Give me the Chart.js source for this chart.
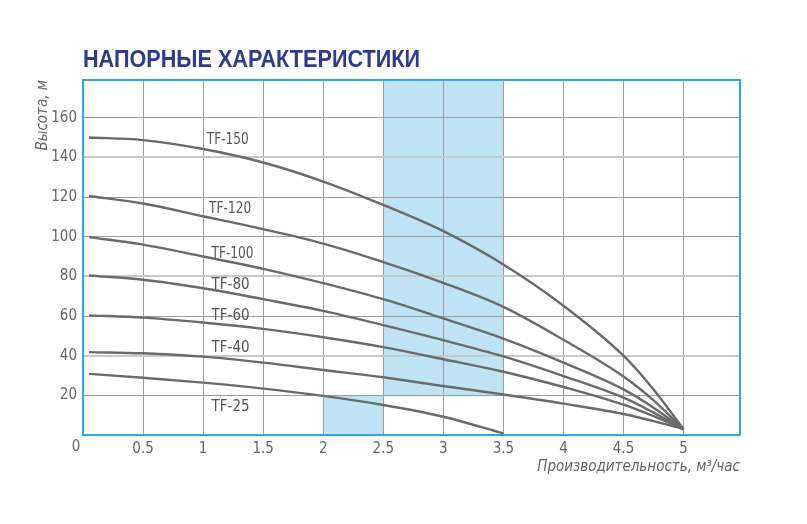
<!DOCTYPE html>
<html>
<head>
<meta charset="utf-8">
<script src="https://cdn.jsdelivr.net/npm/chart.js@4.4.1/dist/chart.umd.min.js"></script>
<style>
html,body{margin:0;padding:0;background:#fff;}
#wrap{position:relative;width:807px;height:524px;}
</style>
</head>
<body>
<div id="wrap"><canvas id="c"></canvas></div>
<script>
// ---- data ----
const chartTitle = 'НАПОРНЫЕ ХАРАКТЕРИСТИКИ';
const xAxisTitle = 'Производительность, м³/час';
const yAxisTitle = 'Высота, м';
const flowRates = [0.05, 0.5, 1, 1.5, 2, 2.5, 3, 3.5, 4, 4.5, 4.75, 5];
const flowRatesTF25 = [0.05, 0.5, 1, 1.5, 2, 2.5, 3, 3.5];
const seriesNames = ['TF-150', 'TF-120', 'TF-100', 'TF-80', 'TF-60', 'TF-40', 'TF-25'];
const headTF150 = [150, 148.7, 144.2, 137.4, 127.8, 116, 102.8, 86, 65.2, 40, 23, 3];
const headTF120 = [120.5, 116.7, 110.3, 103.8, 96.5, 87.2, 76.7, 64.6, 48, 29.5, 17.5, 3];
const headTF100 = [99.8, 96, 90, 83.8, 76.6, 68.5, 58.8, 48.6, 36.5, 23, 13.8, 3];
const headTF80 = [80.4, 78.3, 74, 68.5, 62.6, 55.4, 47.8, 39.6, 29.7, 18.8, 11.3, 3];
const headTF60 = [60.3, 59.2, 56.7, 53.5, 49.3, 44.3, 38.2, 31.9, 24.2, 15.3, 9.5, 3];
const headTF40 = [41.8, 41.2, 39.5, 36.5, 32.8, 29.1, 24.7, 20.4, 15.8, 10.6, 7, 3];
const headTF25 = [30.8, 28.9, 26.4, 23.4, 19.7, 15.1, 9.2, 0.8];
const labelX = [1.03, 1.05, 1.07, 1.07, 1.07, 1.07, 1.07];
const labelY = [148.5, 114, 91, 75.8, 60, 44, 14];
const xTickValues = [0, 0.5, 1, 1.5, 2, 2.5, 3, 3.5, 4, 4.5, 5];
const yTickValues = [0, 20, 40, 60, 80, 100, 120, 140, 160];
const xMax = 5.47, yMax = 179;
const shadeX0 = [2.5, 2];
const shadeX1 = [3.5, 2.5];
const shadeY0 = [19.5, 0];
const shadeY1 = [179, 20];

// ---- styles ----
const NARROW = "'DejaVu Sans Condensed','Liberation Sans Narrow',sans-serif";
const curveColor = '#6a6a6a';
const textGray = '#666666';
const frameBlue = '#29abe2';
const shadeBlue = '#bde3f5';

const seriesX = [flowRates, flowRates, flowRates, flowRates, flowRates, flowRates, flowRatesTF25];
const seriesY = [headTF150, headTF120, headTF100, headTF80, headTF60, headTF40, headTF25];

const datasets = seriesNames.map((name, k) => ({
  label: name,
  data: seriesX[k].map((x, i) => ({x: x, y: seriesY[k][i]})),
  borderColor: curveColor,
  borderWidth: 2.4,
  pointRadius: 0,
  fill: false,
  cubicInterpolationMode: 'monotone'
}));

const decor = {
  id: 'decor',
  beforeDraw(chart) {
    const {ctx} = chart;
    const xs = chart.scales.x, ys = chart.scales.y;
    ctx.save();
    ctx.fillStyle = '#ffffff';
    ctx.fillRect(0, 0, chart.width, chart.height);
    ctx.fillStyle = shadeBlue;
    for (let i = 0; i < shadeX0.length; i++) {
      const x0 = xs.getPixelForValue(shadeX0[i]);
      const x1 = xs.getPixelForValue(shadeX1[i]);
      const y0 = ys.getPixelForValue(shadeY0[i]);
      const y1 = ys.getPixelForValue(shadeY1[i]);
      ctx.fillRect(x0, y1, x1 - x0, y0 - y1);
    }
    ctx.restore();
  },
  afterDatasetsDraw(chart) {
    const {ctx, chartArea: a} = chart;
    const xs = chart.scales.x, ys = chart.scales.y;
    ctx.save();
    // series labels
    ctx.font = "15px " + NARROW;
    ctx.fillStyle = '#555555';
    ctx.textAlign = 'left';
    ctx.textBaseline = 'middle';
    seriesNames.forEach((n, k) => {
      ctx.fillText(n, xs.getPixelForValue(labelX[k]), ys.getPixelForValue(labelY[k]), 42);
    });
    // frame
    ctx.strokeStyle = frameBlue;
    ctx.lineWidth = 2;
    ctx.strokeRect(a.left, a.top, a.right - a.left, a.bottom - a.top);
    // origin label
    ctx.font = "15px " + NARROW;
    ctx.fillStyle = textGray;
    ctx.textAlign = 'center';
    ctx.fillText('0', xs.getPixelForValue(0) - 7, a.bottom + 12);
    // title
    ctx.font = "bold 23px 'Liberation Sans','DejaVu Sans',sans-serif";
    ctx.fillStyle = '#2e3a8f';
    ctx.textAlign = 'left';
    ctx.textBaseline = 'alphabetic';
    ctx.fillText(chartTitle, a.left, 67, 337);
    ctx.restore();
  }
};

new Chart(document.getElementById('c'), {
  type: 'line',
  data: {datasets: datasets},
  plugins: [decor],
  options: {
    responsive: true,
    maintainAspectRatio: false,
    animation: false,
    layout: {padding: {top: 80, right: 67, bottom: 0, left: 0}},
    plugins: {legend: {display: false}, tooltip: {enabled: false}, title: {display: false}},
    scales: {
      x: {
        type: 'linear',
        min: 0, max: xMax,
        afterBuildTicks: s => { s.ticks = xTickValues.map(v => ({value: v})); },
        afterFit: s => { s.height = 89; },
        grid: {color: '#9d9d9d', lineWidth: 1, drawTicks: false},
        border: {display: false},
        ticks: {
          padding: 5,
          color: textGray,
          font: {family: NARROW, size: 15},
          maxRotation: 0,
          autoSkip: false,
          callback: v => v === 0 ? '' : String(v)
        },
        title: {
          display: true, text: xAxisTitle, align: 'end',
          color: textGray,
          font: {family: NARROW, size: 15, style: 'italic'},
          padding: {top: 0, bottom: 48}
        }
      },
      y: {
        type: 'linear',
        min: 0, max: yMax,
        afterBuildTicks: s => { s.ticks = yTickValues.map(v => ({value: v})); },
        afterFit: s => { s.width = 83; },
        grid: {
          color: c => (c.tick && [40, 80, 140].includes(c.tick.value)) ? '#c9c9c9' : '#9d9d9d',
          lineWidth: c => (c.tick && [40, 80, 140].includes(c.tick.value)) ? 2 : 1,
          drawTicks: false
        },
        border: {display: false},
        ticks: {
          padding: 6,
          color: textGray,
          font: {family: NARROW, size: 15},
          autoSkip: false,
          callback: v => v === 0 ? '' : String(v)
        },
        title: {
          display: true, text: yAxisTitle, align: 'end',
          color: textGray,
          font: {family: NARROW, size: 15, style: 'italic'},
          padding: {top: 34, bottom: 0}
        }
      }
    }
  }
});
</script>
</body>
</html>
